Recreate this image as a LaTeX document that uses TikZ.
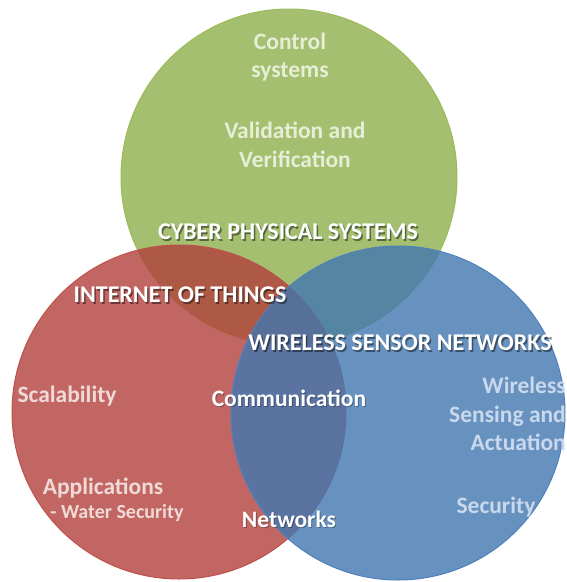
\documentclass[tikz,border=0pt]{standalone}
\usepackage{fontspec}
\setmainfont{Carlito}
\definecolor{gfill}{HTML}{8EAF4C}
\definecolor{rfill}{HTML}{B2403B}
\definecolor{bfill}{HTML}{4177B0}
\definecolor{gline}{HTML}{9BBB59}
\definecolor{rline}{HTML}{C0504D}
\definecolor{bline}{HTML}{4F81BD}
\definecolor{gtext}{HTML}{E6EED6}
\definecolor{rtext}{HTML}{F0DAD8}
\definecolor{btext}{HTML}{C9D8EC}
\tikzset{
  venn/.style={circle, minimum size=#1, inner sep=0pt, fill opacity=0.8, line width=1pt},
  body/.style={font=\fontsize{23.5}{28.5}\selectfont\bfseries, align=center, inner sep=0pt},
  small/.style={font=\fontsize{20}{23}\selectfont\bfseries, inner sep=0pt},
  head/.style={font=\fontsize{24}{29}\selectfont\bfseries, inner sep=0pt, text=white},
  shade/.style={font=\fontsize{24}{29}\selectfont\bfseries, inner sep=0pt, text=black, text opacity=0.45},
  bshade/.style={font=\fontsize{23.5}{28.5}\selectfont\bfseries, inner sep=0pt, text=black, text opacity=0.3}
}
\begin{document}
\begin{tikzpicture}[x=1pt,y=-1pt]
\useasboundingbox (0,0) rectangle (566,582);
% circles
\node[venn=336pt, fill=gfill, draw=gline] (cps) at (289,177) {};
\node[venn=334pt, fill=rfill, draw=rline] (iot) at (179,412) {};
\node[venn=334pt, fill=bfill, draw=bline] (wsn) at (398,413) {};
% green circle texts
\node[body, text=gtext] (ctrl) at (290,57) {Control\\systems};
\node[body, text=gtext] (valid) at (295,145) {Validation and\\Verification};
% headings with shadows
\node[shade] at (289.5,233.5) {CYBER PHYSICAL SYSTEMS};
\node[head] (cpst) at (288,232) {CYBER PHYSICAL SYSTEMS};
\node[shade] at (181.5,296.5) {INTERNET OF THINGS};
\node[head] (iott) at (180,295) {INTERNET OF THINGS};
\node[shade] at (401.5,344.5) {WIRELESS SENSOR NETWORKS};
\node[head] (wsnt) at (400,343) {WIRELESS SENSOR NETWORKS};
% red circle texts
\node[body, text=rtext] (scal) at (67,396) {Scalability};
\node[body, text=rtext] (app) at (103,488) {Applications};
\node[small, text=rtext] (water) at (117,513) {- Water Security};
% intersection texts
\node[bshade] at (290,399) {Communication};
\node[body, text=white] (comm) at (289,398) {Communication};
\node[bshade] at (290,520) {Networks};
\node[body, text=white] (net) at (289,519) {Networks};
% blue circle texts
\node[body, text=btext, align=right, anchor=east] (wsa) at (566,414) {Wireless\\Sensing and\\Actuation};
\node[body, text=btext] (sec) at (496,507) {Security};
\end{tikzpicture}
\end{document}
